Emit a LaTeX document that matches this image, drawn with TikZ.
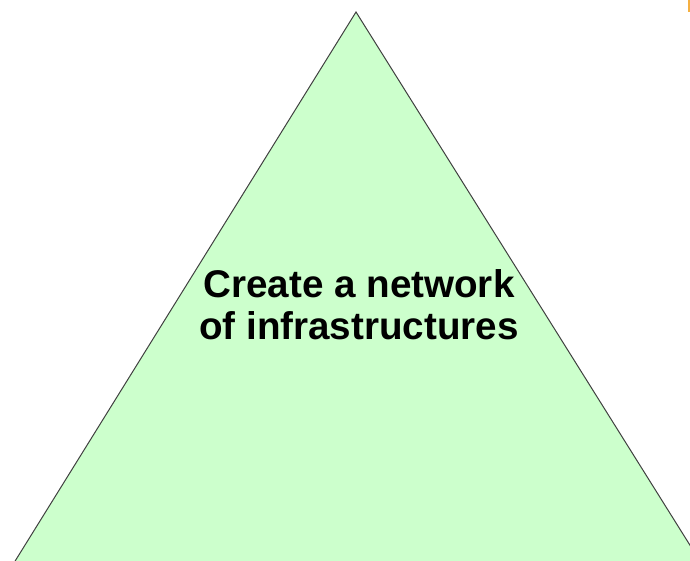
\documentclass[tikz,border=0pt]{standalone}
\usepackage{fontspec}
\setmainfont{Liberation Sans}
\definecolor{trifill}{HTML}{CCFFCC}
\definecolor{triline}{HTML}{404040}
\definecolor{orangebar}{HTML}{F5B041}
\tikzset{
  pyramid/.style={fill=trifill, draw=triline, line width=1pt, line join=miter},
  label/.style={font=\bfseries\fontsize{38.6}{42}\selectfont, align=center, text=black, inner sep=0pt}
}
\begin{document}
\begin{tikzpicture}[x=1pt,y=1pt]
  \useasboundingbox (0,0) rectangle (690,-560);
  \begin{scope}
    \clip (0,0) rectangle (690,-560);
    \coordinate (apex) at (356,-12);
    \coordinate (bl) at (14.5,-562);
    \coordinate (br) at (700.5,-562);
    \draw[pyramid] (apex) -- (br) -- (bl) -- cycle;
    \fill[orangebar] (688,0) rectangle (690,-12);
  \end{scope}
  \node[label] (txt) at (359,-305) {Create a network\\of infrastructures};
\end{tikzpicture}
\end{document}
